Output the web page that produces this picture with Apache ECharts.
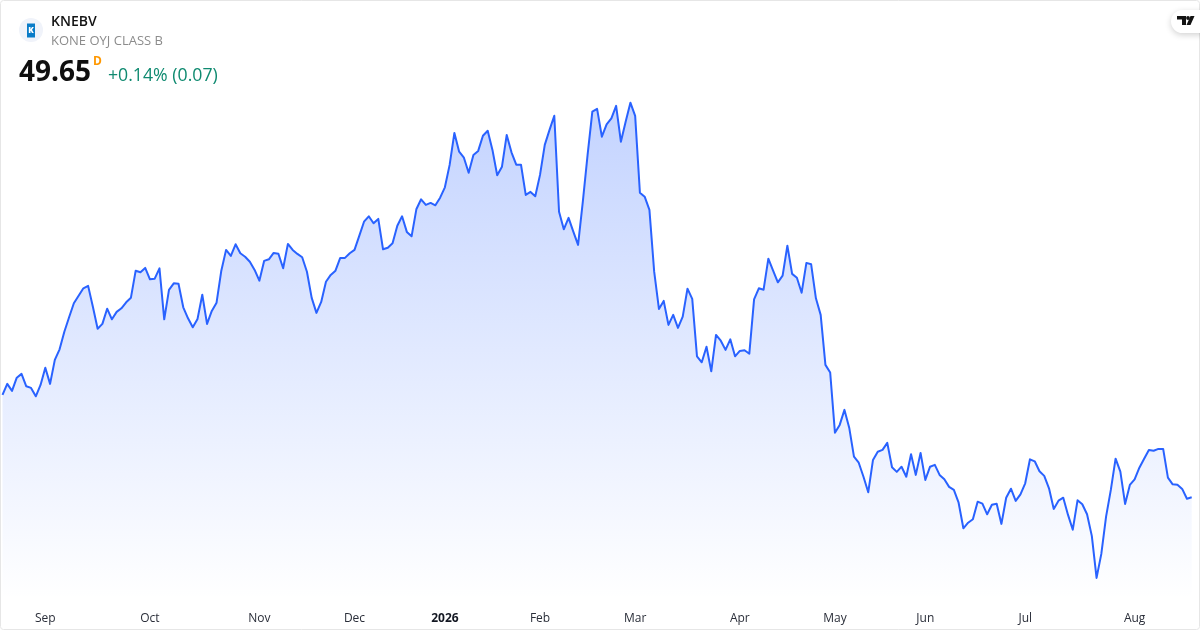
<!DOCTYPE html>
<html>
<head>
<meta charset="utf-8">
<style>html,body{margin:0;padding:0;background:#fff}#c{width:1200px;height:630px}</style>
<script src="https://cdn.jsdelivr.net/npm/echarts@6/dist/echarts.min.js"></script>
</head>
<body>
<div id="c"></div>
<script>
var prices = [
54.77,55.32,54.97,55.63,55.82,55.20,55.12,54.70,55.27,56.13,55.32,56.52,57.05,57.93,58.65,59.35,59.73,60.10,60.22,59.18,
58.08,58.32,59.08,58.55,58.92,59.10,59.40,59.63,60.98,60.90,61.12,60.55,60.58,61.10,58.55,60.02,60.35,60.33,59.15,58.60,
58.15,58.57,59.78,58.32,58.97,59.38,60.98,62.02,61.72,62.30,61.85,61.68,61.43,61.02,60.48,61.47,61.55,61.87,61.83,61.10,
62.32,62.02,61.82,61.65,60.93,59.62,58.87,59.42,60.43,60.77,60.98,61.62,61.62,61.85,62.02,62.72,63.43,63.70,63.35,63.57,
62.05,62.13,62.35,63.23,63.70,62.92,62.70,64.05,64.55,64.27,64.37,64.25,64.63,65.15,66.27,67.87,66.93,66.63,65.88,66.77,
66.97,67.73,67.98,67.02,65.75,66.18,67.77,66.90,66.28,66.28,64.77,64.92,64.70,65.77,67.27,68.02,68.73,63.93,63.05,63.62,
62.93,62.27,64.43,66.77,68.93,69.07,67.68,68.30,68.60,69.22,67.43,68.43,69.38,68.72,64.88,64.68,64.02,60.93,59.07,59.47,
58.27,58.77,58.12,58.68,60.08,59.57,56.70,56.40,57.18,55.95,57.77,57.48,57.02,57.55,56.70,56.97,57.00,56.83,59.55,60.10,
60.03,61.58,60.98,60.40,60.73,62.23,60.82,60.63,59.88,61.37,61.30,59.60,58.77,56.27,55.89,52.88,53.27,54.02,53.13,51.68,
51.38,50.68,49.90,51.52,51.93,52.02,52.37,51.15,50.92,51.18,50.68,51.80,50.77,51.87,50.52,51.18,51.27,50.77,50.55,50.17,
50.02,49.38,48.10,48.38,48.55,49.43,49.33,48.80,49.28,49.33,48.32,49.63,50.08,49.47,49.80,50.35,51.55,51.45,50.95,50.72,
50.10,49.07,49.48,49.63,48.77,48.03,49.50,49.30,48.80,47.72,45.62,46.82,48.68,50.02,51.58,50.93,49.32,50.27,50.55,51.13,
51.58,52.02,51.98,52.07,52.07,50.63,50.30,50.28,50.07,49.58,49.65
];
var tickIndices = [9,31,54,74,93,113,133,155,175,194,215,238];
var tickLabels = ['Sep','Oct','Nov','Dec','2026','Feb','Mar','Apr','May','Jun','Jul','Aug'];
var symbol = 'KNEBV';
var companyName = 'KONE OYJ CLASS B';
var lastPrice = '49.65';
var interval = 'D';
var changeText = '+0.14% (0.07)';

var categories = prices.map(function (_, i) {
  var k = tickIndices.indexOf(i);
  return k >= 0 ? tickLabels[k] : 'd' + i;
});
var FONT = '"Open Sans", sans-serif';
var chart = echarts.init(document.getElementById('c'), null, {renderer: 'canvas'});
chart.setOption({
  animation: false,
  backgroundColor: '#ffffff',
  grid: {left: 2.5, right: 8.3, top: 0, bottom: 30, containLabel: false},
  xAxis: {
    type: 'category', boundaryGap: false, data: categories,
    axisLine: {show: false}, axisTick: {show: false}, splitLine: {show: false},
    axisLabel: {
      interval: function (i) { return tickIndices.indexOf(i) >= 0; },
      margin: 13, hideOverlap: false,
      fontFamily: FONT, fontSize: 12, color: '#2a2e39',
      formatter: function (v) { return v === '2026' ? '{b|2026}' : v; },
      rich: {b: {fontFamily: FONT, fontSize: 12, fontWeight: 700, color: '#131722'}}
    }
  },
  yAxis: {type: 'value', min: 44.515, max: 74.515, show: false, splitLine: {show: false}},
  series: [{
    type: 'line', data: prices, symbol: 'none', smooth: false,
    lineStyle: {color: '#2962FF', width: 2, join: 'round'},
    areaStyle: {
      origin: 'start', opacity: 1,
      color: new echarts.graphic.LinearGradient(0, 0, 0, 1, [
        {offset: 0, color: 'rgba(41,98,255,0.28)'},
        {offset: 1, color: 'rgba(41,98,255,0)'}
      ])
    }
  }],
  graphic: [
    {type: 'rect', silent: true, shape: {x: 0.5, y: 0.5, width: 1199, height: 629, r: 3}, style: {fill: 'none', stroke: '#e6e6e6', lineWidth: 1}},
    {type: 'circle', silent: true, shape: {cx: 31, cy: 30, r: 12}, style: {fill: '#f0f3fa'}},
    {type: 'rect', silent: true, shape: {x: 27, y: 23.5, width: 8, height: 14}, style: {fill: '#0a7cc8'}},
    {type: 'text', silent: true, x: 31, y: 30.5, style: {text: 'K', fill: '#ffffff', font: '800 8px "Open Sans"', textAlign: 'center', textVerticalAlign: 'middle'}},
    {type: 'text', silent: true, x: 51, y: 22, style: {text: symbol, fill: '#131313', font: '600 14px "Open Sans"', textVerticalAlign: 'middle'}},
    {type: 'text', silent: true, x: 51, y: 41.5, style: {text: companyName, fill: '#8c8c8c', font: '400 13px "Open Sans"', textVerticalAlign: 'middle'}},
    {type: 'text', silent: true, x: 19, y: 73, style: {text: lastPrice, fill: '#0f0f0f', font: '700 28px "Open Sans"', textVerticalAlign: 'middle'}},
    {type: 'text', silent: true, x: 93, y: 62, style: {text: interval, fill: '#ff9800', font: '700 12px "Open Sans"', textVerticalAlign: 'middle'}},
    {type: 'text', silent: true, x: 108, y: 75.5, style: {text: changeText, fill: '#0f8a70', font: '400 17.7px "Open Sans"', textVerticalAlign: 'middle'}},
    {type: 'rect', silent: true, shape: {x: 1171, y: 10, width: 40, height: 23, r: 11.5}, style: {fill: '#ffffff', shadowBlur: 6, shadowColor: 'rgba(0,0,0,0.18)', shadowOffsetY: 2}},
    {type: 'polygon', silent: true, shape: {points: [[1177,16],[1186,16],[1186,25],[1182,25],[1182,19.5],[1177,19.5]]}, style: {fill: '#131313'}},
    {type: 'circle', silent: true, shape: {cx: 1188, cy: 18, r: 1.9}, style: {fill: '#131313'}},
    {type: 'polygon', silent: true, shape: {points: [[1190.5,16],[1194.5,16],[1190.5,25],[1186.5,25]]}, style: {fill: '#131313'}}
  ]
});
</script>
</body>
</html>
